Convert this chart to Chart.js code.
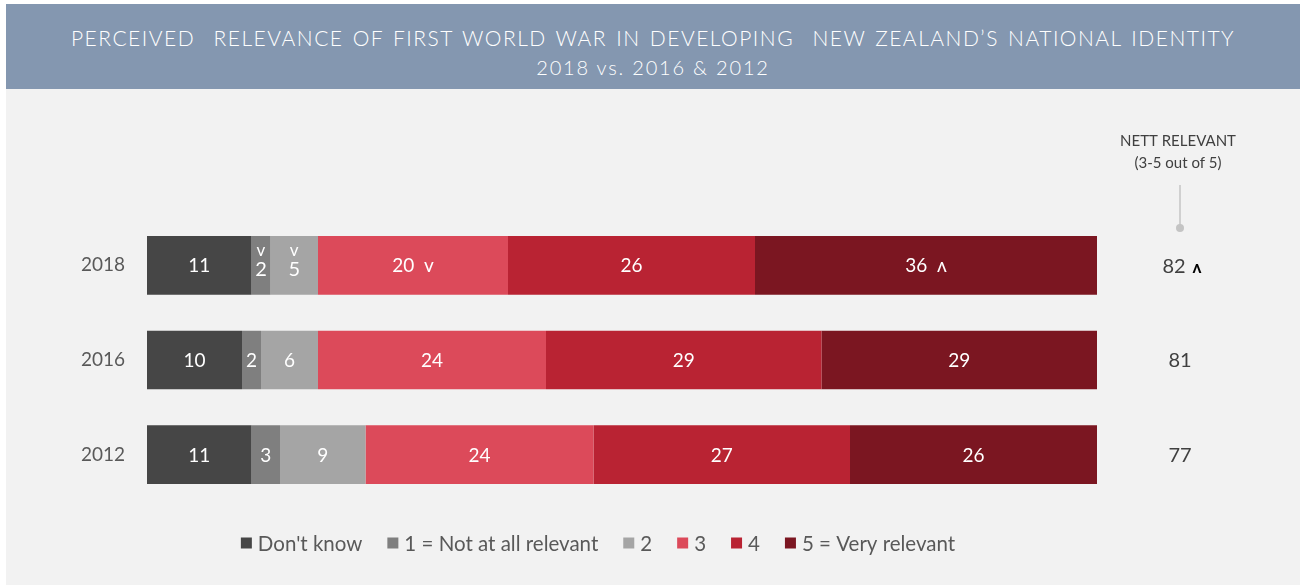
<!DOCTYPE html>
<html>
<head>
<meta charset="utf-8">
<script src="https://cdn.jsdelivr.net/npm/chart.js@4/dist/chart.umd.min.js"></script>
<style>
  html, body { margin: 0; padding: 0; background: #ffffff; }
  body { width: 1305px; height: 585px; position: relative; overflow: hidden; font-family: Lato, "Open Sans", sans-serif; }
  #panel { position: absolute; left: 6px; top: 4px; width: 1294px; height: 581px; background: #f2f2f2; }
  #banner { position: absolute; left: 0; top: 0; width: 1294px; height: 85px; background: #8497b0; color: #ffffff; text-align: center; }
  #banner .t1 { position: absolute; left: 0; right: 0; top: 21px; font-size: 21px; font-weight: 300; letter-spacing: 1.5px; word-spacing: 2px; }
  #banner .t2 { position: absolute; left: 0; right: 0; top: 51px; font-size: 20px; font-weight: 300; letter-spacing: 1.8px; }
  #chart { position: absolute; left: 0; top: 0; }
</style>
</head>
<body>
<div id="panel">
  <div id="banner">
    <div class="t1">PERCEIVED&nbsp; RELEVANCE OF FIRST WORLD WAR IN DEVELOPING&nbsp; NEW ZEALAND’S NATIONAL IDENTITY</div>
    <div class="t2">2018 vs. 2016 &amp; 2012</div>
  </div>
</div>
<canvas id="chart" width="1305" height="585"></canvas>
<script>
// Survey years (one bar each)
const years = ['2018', '2016', '2012'];

// Share of respondents (%) per answer, in the order of the years above
const dontKnow     = [11, 10, 11];
const notAtAll     = [2, 2, 3];
const ratingTwo    = [5, 6, 9];
const ratingThree  = [20, 24, 24];
const ratingFour   = [26, 29, 27];
const veryRelevant = [36, 29, 26];

// Significance markers vs. the previous wave ('v' lower, 'ʌ' higher)
const markDontKnow     = ['', '', ''];
const markNotAtAll     = ['v', '', ''];
const markTwo          = ['v', '', ''];
const markThree        = ['v', '', ''];
const markFour         = ['', '', ''];
const markVeryRelevant = ['ʌ', '', ''];

// Nett relevant (3-5 out of 5) per year
const nettRelevant = [82, 81, 77];
const nettMarks    = ['ʌ', '', ''];

const seriesLabels = ["Don't know", '1 = Not at all relevant', '2', '3', '4', '5 = Very relevant'];
const seriesColors = ['#464646', '#7f7f7f', '#a5a5a5', '#dc4a5a', '#b92333', '#7b1621'];
const seriesValues = [dontKnow, notAtAll, ratingTwo, ratingThree, ratingFour, veryRelevant];
const seriesMarks  = [markDontKnow, markNotAtAll, markTwo, markThree, markFour, markVeryRelevant];

const FONT = 'Lato, "Open Sans", sans-serif';

// White value labels inside each segment, with significance markers
const segmentLabels = {
  id: 'segmentLabels',
  afterDatasetsDraw(chart) {
    const ctx = chart.ctx;
    ctx.save();
    ctx.fillStyle = '#ffffff';
    ctx.textAlign = 'center';
    ctx.textBaseline = 'middle';
    chart.data.datasets.forEach((ds, di) => {
      const meta = chart.getDatasetMeta(di);
      meta.data.forEach((bar, j) => {
        const v = ds.data[j];
        const mark = ds.marks[j];
        const c = bar.getCenterPoint();
        const w = Math.abs(bar.x - bar.base);
        ctx.font = '19px ' + FONT;
        if (mark && w < 60) {
          ctx.font = '17px ' + FONT;
          ctx.fillText(mark, c.x, c.y - 15);
          ctx.font = '20px ' + FONT;
          ctx.fillText(String(v), c.x, c.y + 4);
        } else if (mark) {
          ctx.fillText(v + '  ' + mark, c.x, c.y + 1);
        } else {
          ctx.fillText(String(v), c.x, c.y + 1);
        }
      });
    });
    ctx.restore();
  }
};

// Nett relevant column on the right of the bars
const nettColumn = {
  id: 'nettColumn',
  afterDraw(chart) {
    const ctx = chart.ctx;
    const yScale = chart.scales.y;
    const cx = 1180;
    ctx.save();
    ctx.textAlign = 'center';
    ctx.textBaseline = 'middle';
    ctx.fillStyle = '#404040';
    ctx.font = '15px ' + FONT;
    ctx.fillText('NETT RELEVANT', cx - 2, 141);
    ctx.fillText('(3-5 out of 5)', cx - 2, 163);
    ctx.strokeStyle = '#c4c4c4';
    ctx.lineWidth = 1.5;
    ctx.beginPath();
    ctx.moveTo(cx, 185);
    ctx.lineTo(cx, 228);
    ctx.stroke();
    ctx.fillStyle = '#c4c4c4';
    ctx.beginPath();
    ctx.arc(cx, 228, 4, 0, Math.PI * 2);
    ctx.fill();
    nettRelevant.forEach((v, j) => {
      const y = yScale.getPixelForValue(j) + 1;
      ctx.font = '20px ' + FONT;
      ctx.fillStyle = '#404040';
      if (nettMarks[j]) {
        const tw = ctx.measureText(String(v)).width;
        ctx.textAlign = 'left';
        ctx.fillText(String(v), cx - tw / 2 - 6, y);
        ctx.fillStyle = '#000000';
        ctx.font = 'bold 17px ' + FONT;
        ctx.fillText(nettMarks[j], cx + tw / 2 + 1, y + 1);
        ctx.textAlign = 'center';
      } else {
        ctx.fillText(String(v), cx, y);
      }
    });
    ctx.restore();
  }
};

// Legend row beneath the bars, built from the datasets
const legendRow = {
  id: 'legendRow',
  afterDraw(chart) {
    const ctx = chart.ctx;
    const y = 543;
    const box = 11, gapText = 6, gapItem = 25;
    ctx.save();
    ctx.font = '20.5px ' + FONT;
    ctx.textBaseline = 'middle';
    ctx.textAlign = 'left';
    const items = chart.data.datasets.map(ds => ({ text: ds.label, color: ds.backgroundColor, w: ctx.measureText(ds.label).width }));
    const total = items.reduce((s, it) => s + box + gapText + it.w, 0) + gapItem * (items.length - 1);
    let x = 598 - total / 2;
    items.forEach(it => {
      ctx.fillStyle = it.color;
      ctx.fillRect(x, y - box / 2, box, box);
      ctx.fillStyle = '#595959';
      ctx.fillText(it.text, x + box + gapText, y + 1);
      x += box + gapText + it.w + gapItem;
    });
    ctx.restore();
  }
};

new Chart(document.getElementById('chart'), {
  type: 'bar',
  data: {
    labels: years,
    datasets: seriesValues.map((vals, i) => ({
      label: seriesLabels[i],
      data: vals,
      marks: seriesMarks[i],
      backgroundColor: seriesColors[i],
      borderWidth: 0,
      categoryPercentage: 1,
      barPercentage: 0.62
    }))
  },
  options: {
    indexAxis: 'y',
    responsive: false,
    animation: false,
    devicePixelRatio: 1,
    layout: { padding: { left: 0, right: 208, top: 218, bottom: 83 } },
    plugins: {
      legend: { display: false },
      tooltip: { enabled: false }
    },
    scales: {
      x: { stacked: true, min: 0, max: 100, display: false },
      y: {
        stacked: true,
        grid: { display: false },
        border: { display: false },
        ticks: { color: '#595959', font: { family: FONT, size: 19 }, padding: 14 },
        afterFit(scale) { scale.width = 147; }
      }
    }
  },
  plugins: [segmentLabels, nettColumn, legendRow]
});
</script>
</body>
</html>
